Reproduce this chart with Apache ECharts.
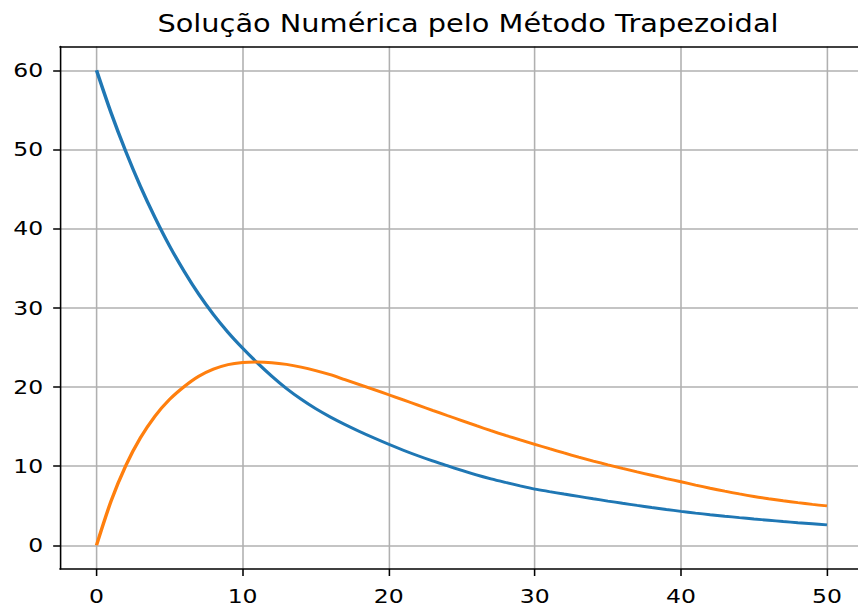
<!DOCTYPE html>
<html><head><meta charset="utf-8">
<script src="https://cdn.jsdelivr.net/npm/echarts@6/dist/echarts.min.js"></script>
<style>
html,body{margin:0;padding:0;background:#fff;overflow:hidden;width:858px;height:608px}
#c{width:725px;height:608px;transform:scaleX(1.2);transform-origin:0 0}
</style>
</head><body><div id="c"></div>
<script>
const chartTitle = 'Solução Numérica pelo Método Trapezoidal';
const tValues = [0,1,2,3,4,5,6,7,8,9,10,11,12,13,14,15,16,17,18,19,20,21,22,23,24,25,26,27,28,29,30,31,32,33,34,35,36,37,38,39,40,41,42,43,44,45,46,47,48,49,50];
const blueValues = [60,54.6,49.75,45.35,41.4,37.8,34.6,31.7,29.15,26.9,24.9,23.05,21.35,19.8,18.45,17.25,16.2,15.25,14.37,13.54,12.75,12.0,11.3,10.65,10.05,9.45,8.88,8.38,7.93,7.5,7.1,6.78,6.47,6.17,5.87,5.58,5.3,5.03,4.77,4.52,4.28,4.06,3.86,3.67,3.49,3.32,3.16,3.0,2.85,2.71,2.57];
const orangeValues = [0,5.6,10.05,13.55,16.3,18.42,20.04,21.35,22.25,22.82,23.08,23.14,23.06,22.84,22.5,22.06,21.54,20.92,20.3,19.66,19.01,18.36,17.7,17.04,16.39,15.75,15.1,14.47,13.87,13.3,12.75,12.2,11.66,11.14,10.64,10.16,9.7,9.26,8.84,8.42,8.02,7.6,7.2,6.83,6.48,6.16,5.88,5.62,5.38,5.16,4.97];
const xTickLabels = [0,10,20,30,40,50];
const yTickLabels = [0,10,20,30,40,50,60];

const font = 'DejaVu Sans';
const chart = echarts.init(document.getElementById('c'), null, {renderer:'svg'});
const pairs = (ys) => tValues.map((t,i) => [t, ys[i]]);
const labelFmt = (list) => (v) => list.indexOf(Math.round(v*1000)/1000) >= 0 ? String(v) : '';

chart.setOption({
  animation: false,
  backgroundColor: '#fff',
  title: {
    text: chartTitle, left: 385, top: 6, textAlign: 'center',
    textStyle: {fontFamily: font, fontSize: 24, fontWeight: 'normal', color: '#000'}
  },
  grid: {left: 50, top: 46.5, width: 669.6, height: 522.5, containLabel: false},
  xAxis: [{
    type: 'value', min: -2.5, max: 52.5, splitNumber: 5,
    axisLine: {show: true, onZero: false, lineStyle: {color: '#000', width: 1.5}},
    axisTick: {show: true, length: 7, lineStyle: {color: '#000', width: 1.3}},
    axisLabel: {show: true, margin: 17, showMinLabel: false, showMaxLabel: false,
      formatter: labelFmt(xTickLabels),
      fontFamily: font, fontSize: 19.6, color: '#000'},
    splitLine: {show: true, showMinLine: false, showMaxLine: false,
      lineStyle: {color: '#b0b0b0', width: 1.3}}
  }, {
    type: 'value', position: 'top', min: -2.5, max: 52.5,
    axisLine: {show: true, onZero: false, lineStyle: {color: '#000', width: 1.5}},
    axisTick: {show: false}, axisLabel: {show: false}, splitLine: {show: false}
  }],
  yAxis: {
    type: 'value', min: -3, max: 63, splitNumber: 6,
    axisLine: {show: true, onZero: false, lineStyle: {color: '#000', width: 1.3}},
    axisTick: {show: true, length: 5.7, lineStyle: {color: '#000', width: 1.5}},
    axisLabel: {show: true, margin: 14, showMinLabel: false, showMaxLabel: false,
      formatter: labelFmt(yTickLabels),
      fontFamily: font, fontSize: 19.6, color: '#000'},
    splitLine: {show: true, showMinLine: false, showMaxLine: false,
      lineStyle: {color: '#b0b0b0', width: 1.5}}
  },
  series: [{
    type: 'line', name: 'A', data: pairs(blueValues), showSymbol: false,
    smooth: 0.3,
    lineStyle: {color: '#1f77b4', width: 2.9}, itemStyle: {color: '#1f77b4'}
  }, {
    type: 'line', name: 'B', data: pairs(orangeValues), showSymbol: false,
    smooth: 0.3,
    lineStyle: {color: '#ff7f0e', width: 2.9}, itemStyle: {color: '#ff7f0e'}
  }]
});
</script></body></html>
